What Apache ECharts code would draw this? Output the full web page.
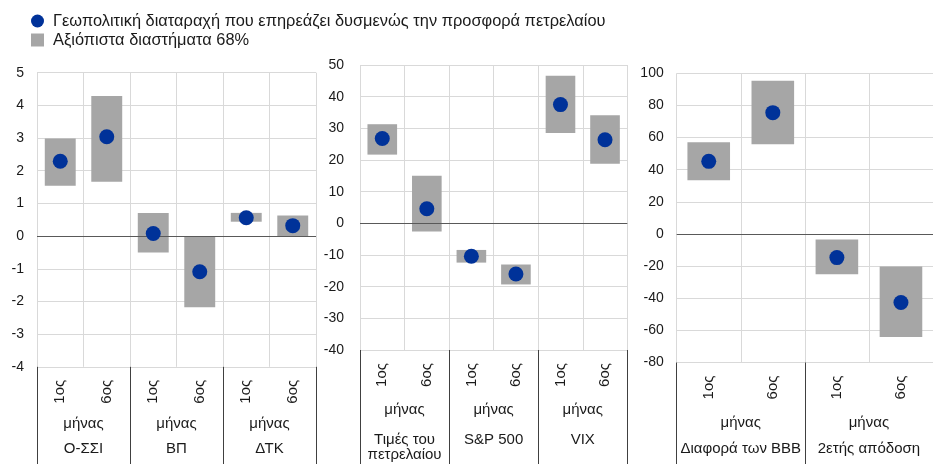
<!DOCTYPE html>
<html>
<head>
<meta charset="utf-8">
<script src="https://cdn.jsdelivr.net/npm/echarts@6/dist/echarts.min.js"></script>
<style>
html,body{margin:0;padding:0;background:#fff;}
#chart{width:933px;height:464px;}
</style>
</head>
<body>
<div id="chart"></div>
<script>
// ---- Data ----
const legendPoint = 'Γεωπολιτική διαταραχή που επηρεάζει δυσμενώς την προσφορά πετρελαίου';
const legendRange = 'Αξιόπιστα διαστήματα 68%';
const months = ['1ος', '6ος'];
const monthWord = 'μήνας';

const groups1 = ['Ο-ΣΣΙ', 'ΒΠ', 'ΔΤΚ'];
const point1 = [2.29, 3.04, 0.08, -1.09, 0.56, 0.32];
const low1   = [1.54, 1.66, -0.50, -2.18, 0.44, 0.00];
const high1  = [2.99, 4.29, 0.71, 0.00, 0.71, 0.63];

const groups2 = ['Τιμές του\nπετρελαίου', 'S&P 500', 'VIX'];
const point2 = [26.8, 4.6, -10.4, -16.0, 37.5, 26.4];
const low2   = [21.7, -2.6, -12.4, -19.3, 28.5, 18.8];
const high2  = [31.3, 15.0, -8.4, -13.0, 46.6, 34.1];

const groups3 = ['Διαφορά των BBB', '2ετής απόδοση'];
const point3 = [45.2, 75.5, -14.7, -42.7];
const low3   = [33.4, 55.8, -25.1, -64.1];
const high3  = [57.1, 95.4, -3.5, -20.3];

const yTicks1 = {min: -4, max: 5, interval: 1};
const yTicks2 = {min: -40, max: 50, interval: 10};
const yTicks3 = {min: -80, max: 100, interval: 20};

// ---- Styles ----
const BLUE = '#003299';
const GRAY = '#a6a6a6';
const GRID_LINE = '#d9d9d9';
const TEXT = '#1a1a1a';
const FONT = 'Liberation Sans, Arial, sans-serif';

const panels = [
  {groups: groups1, point: point1, low: low1, high: high1, y: yTicks1,
   grid: {left: 37, width: 279, top: 72.7, height: 294.1},
   tickLen: 100, groupMargin: 45, groupLH: 25, groupFmt: g => monthWord + '\n' + g},
  {groups: groups2, point: point2, low: low2, high: high2, y: yTicks2,
   grid: {left: 360, width: 267.3, top: 65, height: 285},
   tickLen: 116, groupMargin: 52, groupLH: 15, groupFmt: g => monthWord + '\n\n' + g},
  {groups: groups3, point: point3, low: low3, high: high3, y: yTicks3,
   grid: {left: 676.7, width: 266.7, top: 73.3, height: 289.2},
   tickLen: 104, groupMargin: 47, groupLH: 26, groupFmt: g => monthWord + '\n' + g}
];

const grid = [], xAxis = [], yAxis = [], series = [];

function renderRange(params, api) {
  const x = api.value(0);
  const lo = api.coord([x, api.value(1)]);
  const hi = api.coord([x, api.value(2)]);
  const w = api.size([1, 0])[0] * 0.665;
  return {
    type: 'rect',
    shape: {x: lo[0] - w / 2, y: hi[1], width: w, height: lo[1] - hi[1]},
    style: {fill: GRAY}
  };
}

panels.forEach((p, i) => {
  grid.push(Object.assign({containLabel: false}, p.grid));
  const cats = [];
  p.groups.forEach(g => months.forEach(m => cats.push(g + '|' + m)));
  // month axis
  xAxis.push({
    type: 'category', gridIndex: i, data: cats, position: 'bottom',
    axisLine: {show: false}, axisTick: {show: false},
    axisLabel: {rotate: 90, margin: 13, fontSize: 15, color: TEXT, fontFamily: FONT,
      interval: 0, formatter: v => v.split('|')[1]},
    splitLine: {show: true, interval: 0, lineStyle: {color: GRID_LINE, width: 1}}
  });
  // group axis
  xAxis.push({
    type: 'category', gridIndex: i, data: p.groups, position: 'bottom',
    axisLine: {show: false},
    axisTick: {show: true, length: p.tickLen, interval: 0, lineStyle: {color: '#404040', width: 1}},
    axisLabel: {margin: p.groupMargin, fontSize: 15, color: TEXT, fontFamily: FONT,
      lineHeight: p.groupLH, interval: 0, formatter: p.groupFmt},
    splitLine: {show: false}
  });
  yAxis.push({
    type: 'value', gridIndex: i, min: p.y.min, max: p.y.max, interval: p.y.interval,
    axisLine: {show: false}, axisTick: {show: false},
    axisLabel: {fontSize: 14, color: TEXT, fontFamily: FONT, margin: i === 1 ? 16 : 13},
    splitLine: {show: true, lineStyle: {color: GRID_LINE, width: 1}}
  });
  series.push({
    name: legendRange, type: 'custom', xAxisIndex: i * 2, yAxisIndex: i,
    renderItem: renderRange, z: 2, itemStyle: {color: GRAY},
    data: p.low.map((v, k) => [k, v, p.high[k]]),
    encode: {x: 0, y: [1, 2]},
    markLine: {
      silent: true, symbol: ['none', 'none'], z: 5, animation: false,
      label: {show: false},
      lineStyle: {color: '#595959', type: 'solid', width: 1},
      data: [{yAxis: 0}]
    }
  });
  series.push({
    name: legendPoint, type: 'scatter', xAxisIndex: i * 2, yAxisIndex: i,
    symbol: 'circle', symbolSize: 15, z: 6,
    itemStyle: {color: BLUE, opacity: 1},
    data: p.point.map((v, k) => [k, v])
  });
});

const chart = echarts.init(document.getElementById('chart'), null, {renderer: 'canvas'});
chart.setOption({
  animation: false,
  backgroundColor: '#fff',
  textStyle: {fontFamily: FONT},
  legend: {
    orient: 'vertical', left: 26, top: 8, itemGap: 3,
    itemWidth: 13, itemHeight: 13,
    textStyle: {fontSize: 16.4, color: TEXT, fontFamily: FONT, padding: [0, 0, 0, 4]},
    data: [
      {name: legendPoint, icon: 'circle'},
      {name: legendRange, icon: 'rect'}
    ]
  },
  grid, xAxis, yAxis, series
});
</script>
</body>
</html>
